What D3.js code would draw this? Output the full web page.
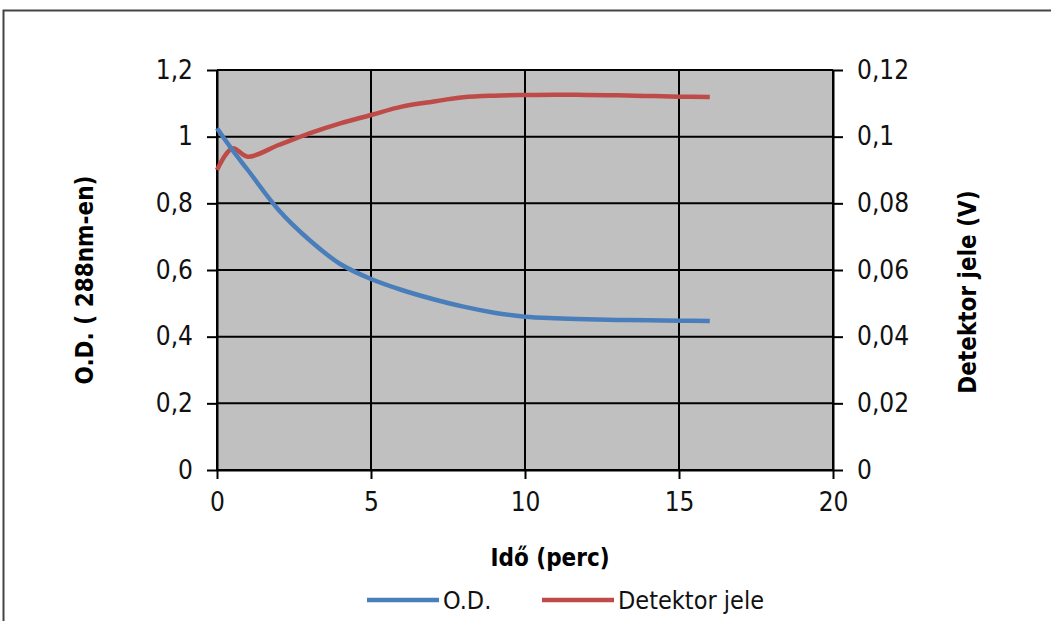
<!DOCTYPE html>
<html>
<head>
<meta charset="utf-8">
<script src="https://cdn.jsdelivr.net/npm/d3@7"></script>
<style>
  body { margin: 0; background: #fff; }
  text { font-family: "Liberation Sans Narrow", "DejaVu Sans Condensed", "Liberation Sans", Arial, sans-serif; }
</style>
</head>
<body>
<div id="chart"></div>
<script>
// time (perc)
var times = [0, 0.5, 1, 2, 3, 4, 5, 6, 7, 8, 9, 10, 11, 12, 13, 14, 15, 16];
// O.D. at 288 nm (left axis)
var odValues = [1.025, 0.96, 0.90, 0.78, 0.69, 0.618, 0.573, 0.54, 0.513, 0.49, 0.472, 0.46, 0.455, 0.452, 0.45, 0.449, 0.448, 0.447];
// detector signal in V (right axis)
var detValues = [0.090, 0.0965, 0.094, 0.0975, 0.101, 0.104, 0.1065, 0.109, 0.1105, 0.1118, 0.1123, 0.1125, 0.1126, 0.1125, 0.1124, 0.1122, 0.112, 0.1119];

var xTicks = [0, 5, 10, 15, 20];
var yLeftTicks = [0, 0.2, 0.4, 0.6, 0.8, 1, 1.2];
var yRightTicks = [0, 0.02, 0.04, 0.06, 0.08, 0.1, 0.12];

var W = 1051, H = 621;
var fmt = function(d) { return String(d).replace('.', ','); };

var svg = d3.select('#chart').append('svg')
    .attr('width', W)
    .attr('height', H);

// outer frame
svg.append('rect')
    .attr('x', 3.5).attr('y', 10.5)
    .attr('width', 1060).attr('height', 640)
    .attr('fill', '#fff')
    .attr('stroke', '#444')
    .attr('stroke-width', 2);

var x = d3.scaleLinear().domain([0, 20]).range([217, 833]);
var yL = d3.scaleLinear().domain([0, 1.2]).range([470, 70]);
var yR = d3.scaleLinear().domain([0, 0.12]).range([470, 70]);

// plot area
svg.append('rect')
    .attr('x', x(0)).attr('y', yL(1.2))
    .attr('width', x(20) - x(0)).attr('height', yL(0) - yL(1.2))
    .attr('fill', '#c0c0c0');

// gridlines
svg.append('g').selectAll('line').data(yLeftTicks).join('line')
    .attr('x1', x(0)).attr('x2', x(20))
    .attr('y1', function(d) { return yL(d); })
    .attr('y2', function(d) { return yL(d); })
    .attr('stroke', '#000').attr('stroke-width', 2);

svg.append('g').selectAll('line').data(xTicks).join('line')
    .attr('x1', function(d) { return x(d); })
    .attr('x2', function(d) { return x(d); })
    .attr('y1', yL(1.2)).attr('y2', yL(0))
    .attr('stroke', '#000').attr('stroke-width', 2);

// axes
function styleAxis(g) {
  g.select('.domain').attr('stroke', '#000').attr('stroke-width', 2);
  g.selectAll('.tick line').attr('stroke', '#000').attr('stroke-width', 2);
  g.selectAll('.tick text').attr('fill', '#111').style('font-size', '26px')
    .style('font-family', '"Liberation Sans Narrow", "DejaVu Sans Condensed", "Liberation Sans", Arial, sans-serif');
}

svg.append('g')
    .attr('transform', 'translate(0,' + yL(0) + ')')
    .call(d3.axisBottom(x).tickValues(xTicks).tickSize(9).tickPadding(14).tickSizeOuter(0).tickFormat(fmt))
    .call(styleAxis);

svg.append('g')
    .attr('transform', 'translate(' + x(0) + ',0)')
    .call(d3.axisLeft(yL).tickValues(yLeftTicks).tickSize(10).tickPadding(14).tickSizeOuter(0).tickFormat(fmt))
    .call(styleAxis);

svg.append('g')
    .attr('transform', 'translate(' + x(20) + ',0)')
    .call(d3.axisRight(yR).tickValues(yRightTicks).tickSize(10).tickPadding(14).tickSizeOuter(0).tickFormat(fmt))
    .call(styleAxis);

// series
var odLine = d3.line()
    .x(function(d, i) { return x(times[i]); })
    .y(function(d) { return yL(d); })
    .curve(d3.curveCatmullRom.alpha(0.5));

var detLine = d3.line()
    .x(function(d, i) { return x(times[i]); })
    .y(function(d) { return yR(d); })
    .curve(d3.curveCatmullRom.alpha(0.5));

svg.append('path')
    .datum(detValues)
    .attr('d', detLine)
    .attr('fill', 'none')
    .attr('stroke', '#be4b48')
    .attr('stroke-width', 4.5)
    .attr('stroke-linejoin', 'round');

svg.append('path')
    .datum(odValues)
    .attr('d', odLine)
    .attr('fill', 'none')
    .attr('stroke', '#4a7ebb')
    .attr('stroke-width', 4.5)
    .attr('stroke-linejoin', 'round');

// axis titles
svg.append('text')
    .attr('transform', 'translate(93,280) rotate(-90)')
    .attr('text-anchor', 'middle')
    .style('font-size', '24px').style('font-weight', 'bold')
    .text('O.D. ( 288nm-en)');

svg.append('text')
    .attr('transform', 'translate(976,292) rotate(-90)')
    .attr('text-anchor', 'middle')
    .style('font-size', '24px').style('font-weight', 'bold')
    .text('Detektor  jele (V)');

svg.append('text')
    .attr('x', 550).attr('y', 566)
    .attr('text-anchor', 'middle')
    .style('font-size', '24px').style('font-weight', 'bold')
    .text('Idő (perc)');

// legend
var legend = [
  {name: 'O.D.', color: '#4a7ebb', x0: 367},
  {name: 'Detektor jele', color: '#be4b48', x0: 542}
];
var lg = svg.append('g').selectAll('g').data(legend).join('g');
lg.append('line')
    .attr('x1', function(d) { return d.x0; })
    .attr('x2', function(d) { return d.x0 + 72; })
    .attr('y1', 600).attr('y2', 600)
    .attr('stroke', function(d) { return d.color; })
    .attr('stroke-width', 4.5);
lg.append('text')
    .attr('x', function(d) { return d.x0 + 76; })
    .attr('y', 609)
    .style('font-size', '25px')
    .attr('fill', '#111')
    .text(function(d) { return d.name; });
</script>
</body>
</html>
